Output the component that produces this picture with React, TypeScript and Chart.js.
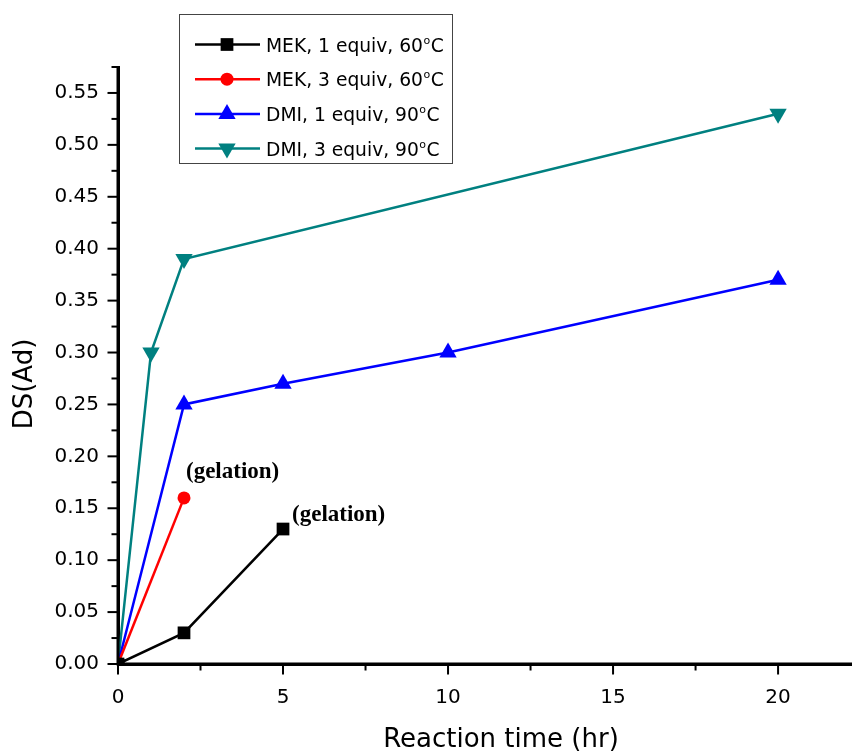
import React, { useEffect, useRef } from 'react';
import { Chart, registerables } from 'chart.js';

Chart.register(...registerables);

// ---------- data ----------
const seriesLabels = ['MEK, 1 equiv, 60°C', 'MEK, 3 equiv, 60°C', 'DMI, 1 equiv, 90°C', 'DMI, 3 equiv, 90°C'];
const mek1Time = [0, 2, 5];
const mek1DS = [0, 0.03, 0.13];
const mek3Time = [0, 2];
const mek3DS = [0, 0.16];
const dmi1Time = [0, 2, 5, 10, 20];
const dmi1DS = [0, 0.25, 0.27, 0.3, 0.37];
const dmi3Time = [0, 1, 2, 20];
const dmi3DS = [0, 0.3, 0.39, 0.53];
const xAxisTitle = 'Reaction time (hr)';
const yAxisTitle = 'DS(Ad)';
const noteText = '(gelation)';
const noteSeries = [1, 0]; // datasets whose last point is marked as gelation
const xMin = 0;
const xMax = 22.24;
const xMajorStep = 5;
const xMinorStep = 2.5;
const yMin = 0;
const yMax = 0.575;
const yMajorStep = 0.05;
const yMinorStep = 0.025;

// ---------- styles ----------
const colors = ['#000000', '#ff0000', '#0000ff', '#008080'];
const shapes = ['rect', 'circle', 'triangle', 'triangle'];
const rotations = [0, 0, 0, 180];
const radii = [9, 6.5, 10, 10];
const noteOffsets = [
  { dx: 2, dy: -26 },
  { dx: 9, dy: -14 },
];
const SANS = '"DejaVu Sans", "Liberation Sans", Arial, sans-serif';

const zip = (xs: number[], ys: number[]) => xs.map((x, i) => ({ x, y: ys[i] }));
const isMult = (v: number, s: number) => Math.abs(v / s - Math.round(v / s)) < 1e-6;

function drawMarker(ctx: CanvasRenderingContext2D, shape: string, x: number, y: number, r: number, rot: number, color: string) {
  ctx.save();
  ctx.fillStyle = color;
  ctx.beginPath();
  if (shape === 'rect') {
    const s = r * Math.SQRT1_2;
    ctx.rect(x - s, y - s, 2 * s, 2 * s);
  } else if (shape === 'circle') {
    ctx.arc(x, y, r, 0, Math.PI * 2);
  } else {
    let a = (rot * Math.PI) / 180;
    ctx.moveTo(x + Math.sin(a) * r, y - Math.cos(a) * r);
    a += (2 * Math.PI) / 3;
    ctx.lineTo(x + Math.sin(a) * r, y - Math.cos(a) * r);
    a += (2 * Math.PI) / 3;
    ctx.lineTo(x + Math.sin(a) * r, y - Math.cos(a) * r);
    ctx.closePath();
  }
  ctx.fill();
  ctx.restore();
}

const decorPlugin = {
  id: 'decor',
  afterDatasetsDraw(chart: any) {
    const ctx: CanvasRenderingContext2D = chart.ctx;
    const area = chart.chartArea;
    const xs = chart.scales.x;
    const ys = chart.scales.y;
    ctx.save();

    // axis lines on top of markers
    ctx.strokeStyle = '#000';
    ctx.lineWidth = 3;
    ctx.beginPath();
    ctx.moveTo(area.left, area.top);
    ctx.lineTo(area.left, area.bottom);
    ctx.lineTo(area.right, area.bottom);
    ctx.stroke();

    // tick marks (major + minor)
    ctx.lineWidth = 2;
    xs.ticks.forEach((t: any) => {
      const px = xs.getPixelForValue(t.value);
      const len = isMult(t.value, xMajorStep) ? 9 : 5;
      ctx.beginPath();
      ctx.moveTo(px, area.bottom);
      ctx.lineTo(px, area.bottom + 1.5 + len);
      ctx.stroke();
    });
    ys.ticks.forEach((t: any) => {
      const py = ys.getPixelForValue(t.value);
      const len = isMult(t.value, yMajorStep) ? 9 : 5;
      ctx.beginPath();
      ctx.moveTo(area.left, py);
      ctx.lineTo(area.left - 1.5 - len, py);
      ctx.stroke();
    });

    // gelation notes
    ctx.fillStyle = '#000';
    ctx.font = 'bold 23px "Liberation Serif", "Times New Roman", serif';
    ctx.textAlign = 'left';
    ctx.textBaseline = 'middle';
    noteSeries.forEach((di, k) => {
      const meta = chart.getDatasetMeta(di);
      const pt = meta.data[meta.data.length - 1];
      ctx.fillText(noteText, pt.x + noteOffsets[k].dx, pt.y + noteOffsets[k].dy);
    });

    // axis titles
    ctx.font = '26px ' + SANS;
    ctx.textAlign = 'center';
    ctx.textBaseline = 'alphabetic';
    ctx.fillText(xAxisTitle, 501, 747);
    ctx.save();
    ctx.translate(32, 384);
    ctx.rotate(-Math.PI / 2);
    ctx.fillText(yAxisTitle, 0, 0);
    ctx.restore();

    // legend
    const box = { left: 179.5, top: 14.5, width: 273, height: 149 };
    ctx.strokeStyle = '#444';
    ctx.lineWidth = 1;
    ctx.fillStyle = '#fff';
    ctx.fillRect(box.left, box.top, box.width, box.height);
    ctx.strokeRect(box.left, box.top, box.width, box.height);
    chart.data.datasets.forEach((ds: any, i: number) => {
      const yy = 44.5 + i * 34.7;
      ctx.strokeStyle = colors[i];
      ctx.lineWidth = 2.5;
      ctx.beginPath();
      ctx.moveTo(195, yy);
      ctx.lineTo(260, yy);
      ctx.stroke();
      drawMarker(ctx, shapes[i], 227, yy, radii[i], rotations[i], colors[i]);
      const parts = String(ds.label).split('°');
      ctx.fillStyle = '#000';
      ctx.textAlign = 'left';
      ctx.textBaseline = 'alphabetic';
      ctx.font = '18.7px ' + SANS;
      let tx = 266;
      const base = yy + 7;
      ctx.fillText(parts[0], tx, base);
      tx += ctx.measureText(parts[0]).width;
      if (parts.length > 1) {
        ctx.font = '11px ' + SANS;
        ctx.fillText('o', tx + 0.5, base - 8);
        tx += ctx.measureText('o').width + 1;
        ctx.font = '18.7px ' + SANS;
        ctx.fillText(parts[1], tx, base);
      }
    });
    ctx.restore();
  },
};

export default function App() {
  const canvasRef = useRef<HTMLCanvasElement | null>(null);

  useEffect(() => {
    if (!canvasRef.current) return;
    const series = [
      zip(mek1Time, mek1DS),
      zip(mek3Time, mek3DS),
      zip(dmi1Time, dmi1DS),
      zip(dmi3Time, dmi3DS),
    ];
    const chart = new Chart(canvasRef.current, {
      type: 'line',
      data: {
        datasets: series.map((data, i) => ({
          label: seriesLabels[i],
          data,
          borderColor: colors[i],
          backgroundColor: colors[i],
          borderWidth: 2.5,
          pointStyle: shapes[i] as any,
          pointRotation: rotations[i],
          pointRadius: radii[i],
          pointBorderWidth: 0,
          pointBackgroundColor: colors[i],
          tension: 0,
          fill: false,
        })),
      },
      options: {
        animation: false,
        responsive: true,
        maintainAspectRatio: false,
        layout: { autoPadding: false, padding: { top: 67, right: 0, bottom: 0, left: 0 } },
        plugins: {
          legend: { display: false },
          tooltip: { enabled: false },
          title: { display: false },
        },
        scales: {
          x: {
            type: 'linear',
            min: xMin,
            max: xMax,
            border: { display: true, color: '#000', width: 3 },
            grid: { display: true, drawOnChartArea: false, drawTicks: true, tickLength: 9, tickColor: 'rgba(0,0,0,0)' },
            ticks: {
              stepSize: xMinorStep,
              includeBounds: false,
              autoSkip: false,
              maxRotation: 0,
              color: '#000',
              padding: 13,
              font: { family: SANS, size: 20 },
              callback: (v: any) => (isMult(Number(v), xMajorStep) ? String(Math.round(Number(v))) : ''),
            },
            afterFit: (s: any) => {
              s.height = 89;
              s.paddingRight = 0;
              s.paddingLeft = 0;
            },
          },
          y: {
            type: 'linear',
            min: yMin,
            max: yMax,
            border: { display: true, color: '#000', width: 3 },
            grid: { display: true, drawOnChartArea: false, drawTicks: true, tickLength: 9, tickColor: 'rgba(0,0,0,0)' },
            ticks: {
              stepSize: yMinorStep,
              includeBounds: false,
              autoSkip: false,
              color: '#000',
              padding: 10,
              font: { family: SANS, size: 20 },
              callback: (v: any) => (isMult(Number(v), yMajorStep) ? Number(v).toFixed(2) : ''),
            },
            afterFit: (s: any) => {
              s.width = 118;
            },
          },
        },
      },
      plugins: [decorPlugin],
    });
    return () => chart.destroy();
  }, []);

  return (
    <div style={{ position: 'fixed', left: 0, top: 0, width: 852, height: 753, background: '#fff' }}>
      <canvas ref={canvasRef} />
    </div>
  );
}
